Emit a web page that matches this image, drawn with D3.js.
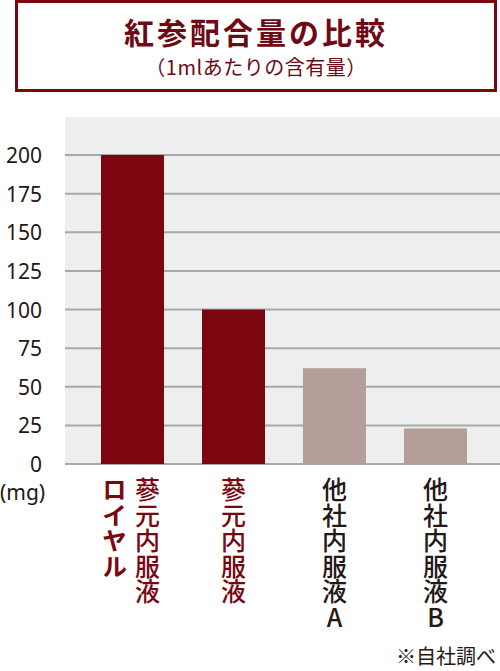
<!DOCTYPE html>
<html lang="ja">
<head>
<meta charset="utf-8">
<script src="https://cdn.jsdelivr.net/npm/d3@7"></script>
<style>
  html, body { margin: 0; padding: 0; background: #fff; }
  svg { display: block; font-family: "Noto Sans CJK JP", "Noto Sans", sans-serif; }
  .vlabel { writing-mode: vertical-rl; text-orientation: upright; }
</style>
</head>
<body>
<svg id="chart"></svg>
<script>
// data
const products = ["蔘元内服液 ロイヤル", "蔘元内服液", "他社内服液A", "他社内服液B"];
const amounts = [200, 100, 62, 23];
const tickValues = [0, 25, 50, 75, 100, 125, 150, 175, 200];
// label columns for each product (right to left when there are two)
const labelColumns = [["ロイヤル", "蔘元内服液"], ["蔘元内服液"], ["他社内服液A"], ["他社内服液B"]];
const ownProduct = [true, true, false, false];

const width = 500;
const height = 671;
const plotLeft = 65, plotRight = 500, plotTop = 117, plotBottom = 464;

const darkRed = "#7b0610";
const otherColor = "#b39e9a";
const textColor = "#231815";
const latinFont = "\"Noto Sans\", sans-serif";

const svg = d3.select("#chart")
    .attr("width", width)
    .attr("height", height);

// title box
svg.append("rect")
    .attr("x", 16.5)
    .attr("y", 1.5)
    .attr("width", 479)
    .attr("height", 89)
    .attr("fill", "#fff")
    .attr("stroke", darkRed)
    .attr("stroke-width", 3);

svg.append("text")
    .attr("x", 256)
    .attr("y", 44)
    .attr("text-anchor", "middle")
    .attr("font-size", 30)
    .attr("font-weight", "bold")
    .attr("letter-spacing", 3)
    .attr("fill", "#6e0a14")
    .text("紅参配合量の比較");

svg.append("text")
    .attr("x", 256)
    .attr("y", 75)
    .attr("text-anchor", "middle")
    .attr("font-size", 20)
    .attr("letter-spacing", 0.5)
    .attr("fill", "#6e0a14")
    .text("（1mlあたりの含有量）");

// scales
const y = d3.scaleLinear()
    .domain([0, 200])
    .range([plotBottom, 155]);

const x = d3.scaleBand()
    .domain(products)
    .range([82, 486])
    .paddingInner(0.376)
    .paddingOuter(0.188);

// plot background
svg.append("rect")
    .attr("x", plotLeft)
    .attr("y", plotTop)
    .attr("width", plotRight - plotLeft)
    .attr("height", plotBottom - plotTop)
    .attr("fill", "#edeeee");

// gridlines
svg.append("g")
    .selectAll("line")
    .data(tickValues)
    .enter()
    .append("line")
    .attr("x1", plotLeft)
    .attr("x2", plotRight)
    .attr("y1", d => y(d))
    .attr("y2", d => y(d))
    .attr("stroke", "#a8a8a8")
    .attr("stroke-width", 2);

// y axis labels
const yAxis = svg.append("g")
    .attr("transform", `translate(42,0)`)
    .call(d3.axisLeft(y).tickValues(tickValues).tickSize(0).tickPadding(0));
yAxis.select(".domain").remove();
yAxis.selectAll("text")
    .attr("font-size", 21)
    .attr("font-family", latinFont)
    .attr("fill", textColor)
    .attr("dy", "0.36em");

svg.append("text")
    .attr("x", 0)
    .attr("y", 500)
    .attr("font-size", 21)
    .attr("font-family", latinFont)
    .attr("fill", textColor)
    .text("(mg)");

// bars
svg.append("g")
    .selectAll("rect")
    .data(amounts)
    .enter()
    .append("rect")
    .attr("x", (d, i) => x(products[i]))
    .attr("y", d => y(d))
    .attr("width", x.bandwidth())
    .attr("height", d => y(0) - y(d))
    .attr("fill", (d, i) => ownProduct[i] ? darkRed : otherColor);

// vertical category labels
const colGap = 33;
labelColumns.forEach((cols, i) => {
    const cx = x(products[i]) + x.bandwidth() / 2;
    cols.forEach((col, j) => {
        const two = cols.length > 1;
        const offset = two ? (j - 0.5) * colGap - 1.5 : 0;
        svg.append("text")
            .attr("class", "vlabel")
            .attr("x", cx + offset)
            .attr("y", 477)
            .attr("font-size", 25)
            .attr("font-weight", two && j === 0 ? "bold" : 500)
            .attr("letter-spacing", 0.5)
            .attr("fill", ownProduct[i] ? darkRed : textColor)
            .text(col);
    });
});

// note
svg.append("text")
    .attr("x", 496)
    .attr("y", 664)
    .attr("text-anchor", "end")
    .attr("font-size", 20)
    .attr("fill", textColor)
    .text("※自社調べ");
</script>
</body>
</html>
